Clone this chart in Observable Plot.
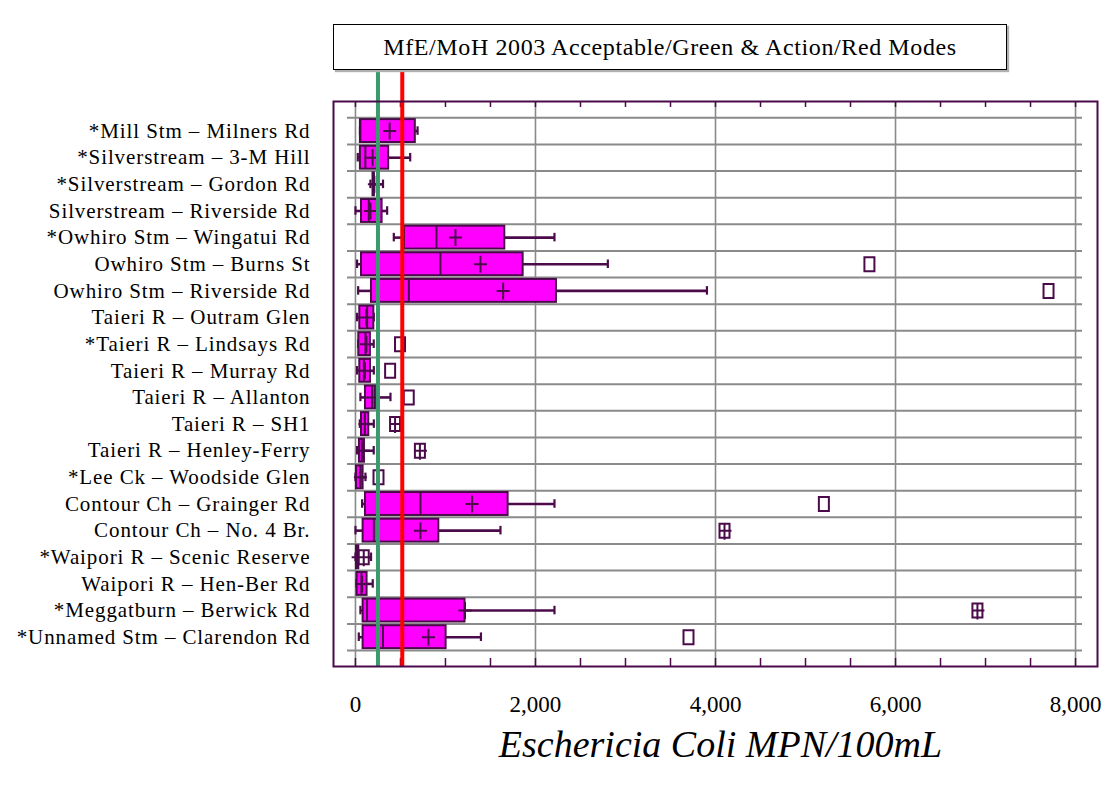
<!DOCTYPE html>
<html>
<head>
<meta charset="utf-8">
<script src="https://cdn.jsdelivr.net/npm/d3@7"></script>
<script src="https://cdn.jsdelivr.net/npm/@observablehq/plot@0.6"></script>
<style>
  html, body { margin: 0; padding: 0; background: #fff; }
  #wrap { position: relative; width: 1118px; height: 788px; overflow: hidden; }
  #legend {
    position: absolute; left: 333px; top: 24px; width: 674px; height: 46px;
    box-sizing: border-box; border: 1.5px solid #000; background: #fff;
    box-shadow: 2px 2px 1px #b0b0b0;
    font-family: "Liberation Serif", "Times New Roman", serif; font-size: 24px; letter-spacing: 0.6px; color: #000;
    display: flex; align-items: center; justify-content: center; z-index: 2;
  }
  #chart { position: absolute; left: 0; top: 0; }
  #chart svg g[aria-label="y-axis tick label"] text { letter-spacing: 0.9px; }
</style>
</head>
<body>
<div id="wrap">
  <div id="legend">MfE/MoH 2003 Acceptable/Green &amp; Action/Red Modes</div>
  <div id="chart"></div>
</div>
<script>
// ---- data ----
const names = [
  "*Mill Stm – Milners Rd",
  "*Silverstream – 3-M Hill",
  "*Silverstream – Gordon Rd",
  "Silverstream – Riverside Rd",
  "*Owhiro Stm – Wingatui Rd",
  "Owhiro Stm – Burns St",
  "Owhiro Stm – Riverside Rd",
  "Taieri R – Outram Glen",
  "*Taieri R – Lindsays Rd",
  "Taieri R – Murray Rd",
  "Taieri R – Allanton",
  "Taieri R – SH1",
  "Taieri R – Henley-Ferry",
  "*Lee Ck – Woodside Glen",
  "Contour Ch – Grainger Rd",
  "Contour Ch – No. 4 Br.",
  "*Waipori R – Scenic Reserve",
  "Waipori R – Hen-Ber Rd",
  "*Meggatburn – Berwick Rd",
  "*Unnamed Stm – Clarendon Rd"
];
const mins    = [50, 26, 166, 0, 426, 18, 30, 18, 30, 18, 55, 48, 18, 0, 74, 0, 0, 11, 55, 37];
const q1s     = [55, 55, 195, 67, 545, 67, 178, 48, 37, 48, 111, 67, 44, 11, 111, 85, 11, 18, 85, 85];
const medians = [55, 110, 200, 148, 900, 944, 593, 130, 111, 93, 185, 104, 70, 55, 722, 204, 20, 66, 129, 306];
const q3s     = [665, 369, 210, 296, 1659, 1863, 2233, 204, 166, 167, 222, 148, 100, 85, 1696, 926, 37, 129, 1217, 1007];
const maxs    = [690, 608, 306, 352, 2211, 2804, 3905, 204, 203, 204, 389, 204, 203, 111, 2211, 1611, 173, 192, 2211, 1394];
const means   = [380, 190, 210, 167, 1111, 1389, 1641, 120, 122, 105, 185, 105, 80, 55, 1296, 722, 30, 74, 1217, 811];

// outliers: site index, value, kind ("box" = hollow square, "cross" = square with cross)
const outlierSite  = [5, 6, 8, 9, 10, 11, 12, 13, 14, 15, 16, 18, 19];
const outlierValue = [5710, 7700, 495, 385, 592, 440, 716, 256, 5204, 4100, 92, 6910, 3700];
const outlierKind  = ["box", "box", "box", "box", "box", "cross", "cross", "box", "box", "cross", "cross", "cross", "box"];

const guideGreen = 250;   // acceptable / green mode
const guideRed = 520;     // action / red mode

const majorTicks = [0, 2000, 4000, 6000, 8000];
const minorTicks = d3.range(0, 8001, 500);
const axisTitle = "Eschericia Coli MPN/100mL";

// ---- build tables ----
const rows = names.map((name, i) => ({
  i, name, min: mins[i], q1: q1s[i], median: medians[i], q3: q3s[i], max: maxs[i], mean: means[i]
}));
const outliers = outlierSite.map((s, k) => ({i: s, v: outlierValue[k], kind: outlierKind[k]}));
const edges = d3.range(names.length + 1).map(k => k - 0.5);

const dark = "#4b0b4b";
const grid = "#8a8a8a";
const half = 0.43;
const cap = 0.16;

const plusSym = {draw(c) { c.moveTo(-6.5, 0); c.lineTo(6.5, 0); c.moveTo(0, -8.5); c.lineTo(0, 8.5); }};
const boxSym = {draw(c) { c.rect(-5, -7, 10, 14); }};
const crossBoxSym = {draw(c) {
  c.rect(-5, -7, 10, 14);
  c.moveTo(-5, 0); c.lineTo(7, 0);
  c.moveTo(0, -7); c.lineTo(0, 9);
}};

const chart = Plot.plot({
  width: 1118,
  height: 788,
  marginLeft: 333,
  marginRight: 21,
  marginTop: 101,
  marginBottom: 122,
  style: {fontFamily: "'Liberation Serif', 'Times New Roman', serif", fontSize: "21px", color: "#000", background: "transparent", overflow: "visible"},
  x: {domain: [-244, 8244]},
  y: {domain: [-1.11, 20.1], reverse: true, axis: null},
  marks: [
    // vertical grid
    Plot.ruleX(majorTicks, {stroke: grid, strokeWidth: 1.6}),
    // horizontal grid between categories
    Plot.ruleY(edges, {y: d => d, stroke: grid, strokeWidth: 2, insetLeft: 14, insetRight: 15}),
    // inward ticks top and bottom
    Plot.ruleX(minorTicks, {stroke: dark, strokeWidth: 1.5, insetBottom: 559}),
    Plot.ruleX(minorTicks, {stroke: dark, strokeWidth: 1.5, insetTop: 557}),
    // whiskers
    Plot.ruleY(rows, {y: "i", x1: "min", x2: "q1", stroke: dark, strokeWidth: 2.6}),
    Plot.ruleY(rows, {y: "i", x1: "q3", x2: "max", stroke: dark, strokeWidth: 2.6}),
    Plot.ruleX(rows, {x: "min", y1: d => d.i - cap, y2: d => d.i + cap, stroke: dark, strokeWidth: 2.2}),
    Plot.ruleX(rows, {x: "max", y1: d => d.i - cap, y2: d => d.i + cap, stroke: dark, strokeWidth: 2.2}),
    // boxes
    Plot.rect(rows, {x1: "q1", x2: "q3", y1: d => d.i - half, y2: d => d.i + half, fill: "#ff00ff", stroke: dark, strokeWidth: 2}),
    // medians
    Plot.ruleX(rows, {x: "median", y1: d => d.i - half, y2: d => d.i + half, stroke: dark, strokeWidth: 2}),
    // means
    Plot.dot(rows, {x: "mean", y: "i", symbol: plusSym, fill: "none", stroke: dark, strokeWidth: 2}),
    // outliers
    Plot.dot(outliers.filter(d => d.kind === "box"), {x: "v", y: "i", symbol: boxSym, fill: "white", stroke: dark, strokeWidth: 2}),
    Plot.dot(outliers.filter(d => d.kind === "cross"), {x: "v", y: "i", symbol: crossBoxSym, fill: "white", stroke: dark, strokeWidth: 2}),
    // guideline modes
    Plot.ruleX([guideGreen], {stroke: "#3a9a6c", strokeWidth: 4, insetTop: -31}),
    Plot.ruleX([guideRed], {stroke: "#ff0000", strokeWidth: 4, insetTop: -31}),
    // frame
    Plot.frame({stroke: dark, strokeWidth: 2}),
    // axes
    Plot.axisY(d3.range(names.length), {anchor: "left", label: null, tickSize: 0, tickPadding: 23, tickFormat: i => names[i], fontSize: 21, fill: "#000"}),
    Plot.axisX(majorTicks, {anchor: "bottom", label: null, tickSize: 0, tickPadding: 29, fontSize: 23, tickFormat: d3.format(","), fill: "#000"}),
    Plot.text([axisTitle], {text: d => d, frameAnchor: "bottom", dy: 90, dx: 5, fontSize: 38, fontStyle: "italic", fill: "#000"})
  ]
});
document.getElementById("chart").appendChild(chart);
</script>
</body>
</html>
